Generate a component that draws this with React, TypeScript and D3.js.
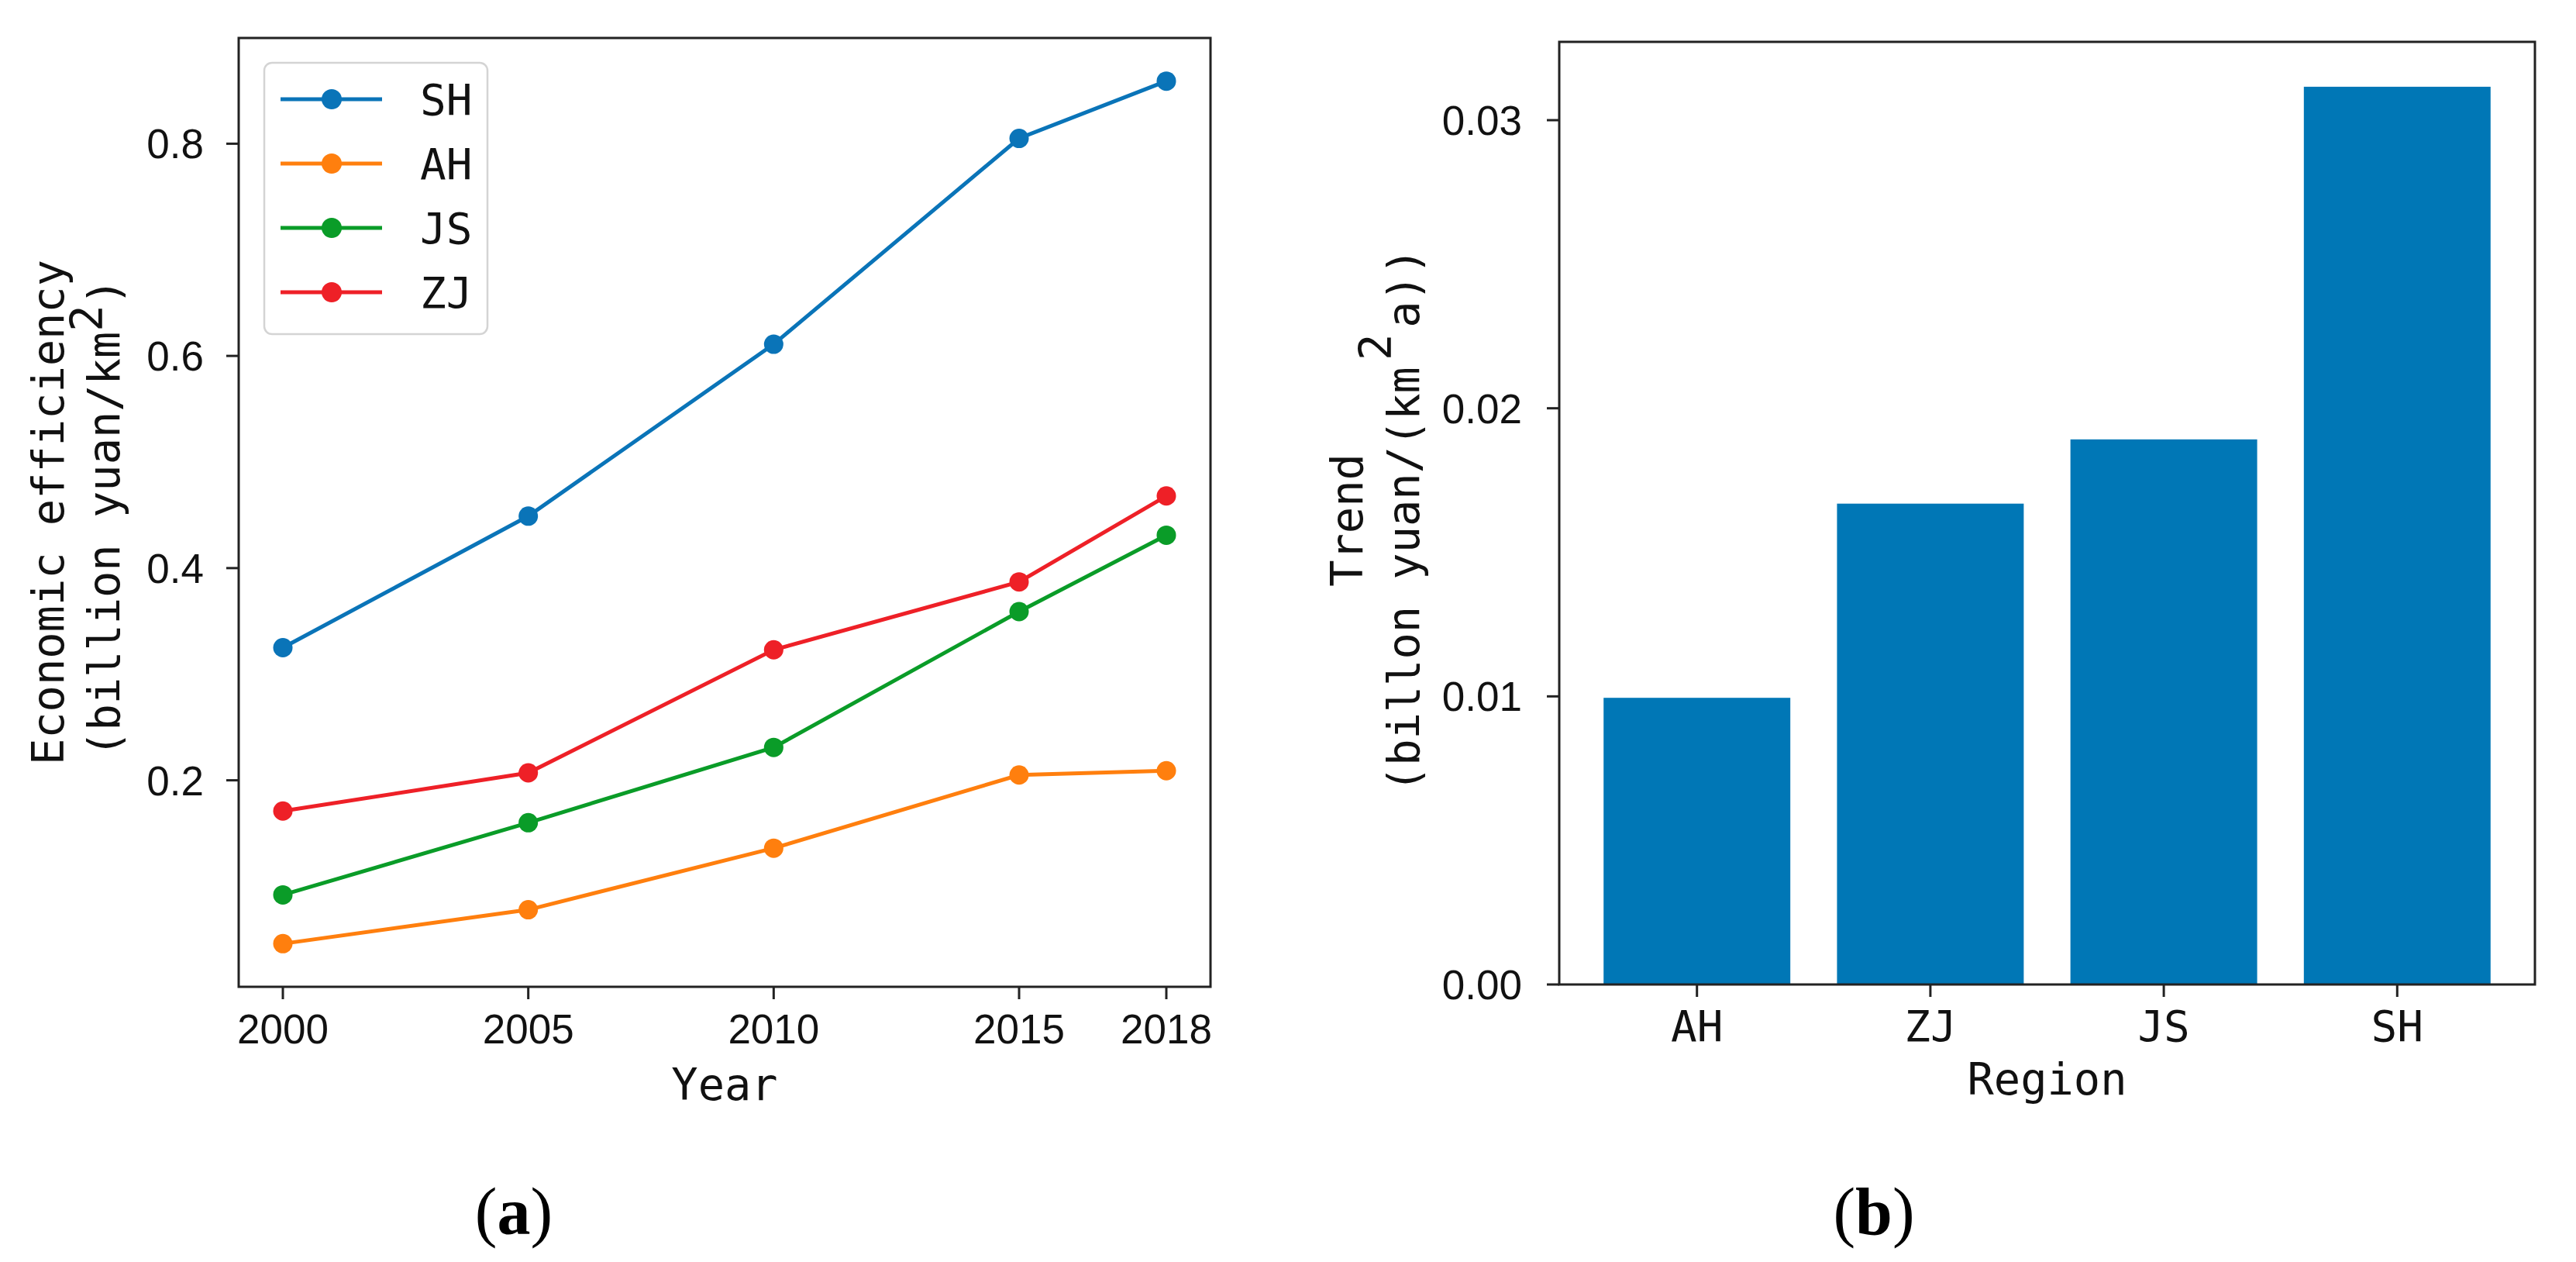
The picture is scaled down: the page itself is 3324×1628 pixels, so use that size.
import React from "react";
import * as d3 from "d3";

const years = [2000, 2005, 2010, 2015, 2018];
const seriesNames = ["SH", "AH", "JS", "ZJ"];
const shValues = [0.325, 0.449, 0.611, 0.805, 0.859];
const ahValues = [0.046, 0.078, 0.136, 0.205, 0.209];
const jsValues = [0.092, 0.160, 0.231, 0.359, 0.431];
const zjValues = [0.171, 0.207, 0.323, 0.387, 0.468];
const seriesColors = ["#0a74b8", "#ff7f0e", "#0a9c28", "#ee2027"];

const yTicksA = [0.2, 0.4, 0.6, 0.8];

const regions = ["AH", "ZJ", "JS", "SH"];
const trendValues = [0.00995, 0.01669, 0.01892, 0.03116];
const yTicksB = [0.0, 0.01, 0.02, 0.03];
const barColor = "#0077b6";

const MONO = "'DejaVu Sans Mono', 'Liberation Mono', monospace";
const SANS = "'Liberation Sans', Arial, sans-serif";
const SERIF = "'Liberation Serif', 'Times New Roman', serif";

export default function App() {
  const W = 3324, H = 1628;
  // panel a
  const aL = 308, aR = 1562, aT = 49, aB = 1273;
  const allSeries = [shValues, ahValues, jsValues, zjValues];
  const allVals = allSeries.flat();
  const vmin = d3.min(allVals)!, vmax = d3.max(allVals)!;
  const pad = (vmax - vmin) * 0.05;
  const xA = d3.scaleLinear().domain([2000 - 0.9, 2018 + 0.9]).range([aL, aR]);
  const yA = d3.scaleLinear().domain([vmin - pad, vmax + pad]).range([aB, aT]);
  const line = d3.line<number>().x((_, i) => xA(years[i])).y((v) => yA(v));

  // panel b
  const bL = 2012, bR = 3271, bT = 54, bB = 1270;
  const xB = d3.scaleLinear().domain([-0.59, 3.59]).range([bL, bR]);
  const yB = d3.scaleLinear().domain([0, d3.max(trendValues)! * 1.05]).range([bB, bT]);

  const legendRowY = [128, 211, 294, 377];

  return (
    <svg width={W} height={H} style={{ position: "absolute", left: 0, top: 0, background: "#fff" }}>
      <rect x={0} y={0} width={W} height={H} fill="#fff" />
      {/* ---------- Panel a ---------- */}
      <g>
        {allSeries.map((s, si) => (
          <g key={si}>
            <path d={line(s)!} fill="none" stroke={seriesColors[si]} strokeWidth={5} />
            {s.map((v, i) => (
              <circle key={i} cx={xA(years[i])} cy={yA(v)} r={12.5} fill={seriesColors[si]} />
            ))}
          </g>
        ))}
        <rect x={aL} y={aT} width={aR - aL} height={aB - aT} fill="none" stroke="#222" strokeWidth={3} />
        {yTicksA.map((t) => (
          <g key={t}>
            <line x1={aL - 16} x2={aL} y1={yA(t)} y2={yA(t)} stroke="#222" strokeWidth={3} />
            <text x={aL - 45} y={yA(t)} dy="0.36em" textAnchor="end" fontFamily={SANS} fontSize={53} fill="#111">
              {t.toFixed(1)}
            </text>
          </g>
        ))}
        {years.map((yr) => (
          <g key={yr}>
            <line x1={xA(yr)} x2={xA(yr)} y1={aB} y2={aB + 16} stroke="#222" strokeWidth={3} />
            <text x={xA(yr)} y={1346} textAnchor="middle" fontFamily={SANS} fontSize={53} fill="#111">
              {yr}
            </text>
          </g>
        ))}
        <text x={(aL + aR) / 2} y={1419} textAnchor="middle" fontFamily={MONO} fontSize={57} fill="#111">
          Year
        </text>
        <text transform="translate(82,661) rotate(-90)" textAnchor="middle" fontFamily={MONO} fontSize={57} fill="#111">
          Economic efficiency
        </text>
        <text transform="translate(154,668) rotate(-90)" textAnchor="middle" fontFamily={MONO} fontSize={57} fill="#111">
          (billion yuan/km<tspan dy={-22}>2</tspan><tspan dy={22}>)</tspan>
        </text>
        {/* legend */}
        <rect x={341} y={81} width={288} height={350} rx={10} fill="#fff" fillOpacity={0.8} stroke="#d4d4d4" strokeWidth={2.5} />
        {seriesNames.map((n, i) => (
          <g key={n}>
            <line x1={362} x2={493} y1={legendRowY[i]} y2={legendRowY[i]} stroke={seriesColors[i]} strokeWidth={5} />
            <circle cx={428} cy={legendRowY[i]} r={13} fill={seriesColors[i]} />
            <text x={542} y={legendRowY[i]} dy="0.36em" fontFamily={MONO} fontSize={56} fill="#111">
              {n}
            </text>
          </g>
        ))}
        <text x={663} y={1592} textAnchor="middle" fontFamily={SERIF} fontSize={86} fill="#000">
          (<tspan fontWeight="bold">a</tspan>)
        </text>
      </g>

      {/* ---------- Panel b ---------- */}
      <g>
        {trendValues.map((v, i) => (
          <rect key={regions[i]} x={xB(i - 0.4)} y={yB(v)} width={xB(i + 0.4) - xB(i - 0.4)} height={yB(0) - yB(v)} fill={barColor} />
        ))}
        <rect x={bL} y={bT} width={bR - bL} height={bB - bT} fill="none" stroke="#222" strokeWidth={3} />
        {yTicksB.map((t) => (
          <g key={t}>
            <line x1={bL - 16} x2={bL} y1={yB(t)} y2={yB(t)} stroke="#222" strokeWidth={3} />
            <text x={bL - 48} y={yB(t)} dy="0.36em" textAnchor="end" fontFamily={SANS} fontSize={53} fill="#111">
              {t.toFixed(2)}
            </text>
          </g>
        ))}
        {regions.map((r, i) => (
          <g key={r}>
            <line x1={xB(i)} x2={xB(i)} y1={bB} y2={bB + 16} stroke="#222" strokeWidth={3} />
            <text x={xB(i)} y={1343} textAnchor="middle" fontFamily={MONO} fontSize={56} fill="#111">
              {r}
            </text>
          </g>
        ))}
        <text x={(bL + bR) / 2} y={1412} textAnchor="middle" fontFamily={MONO} fontSize={57} fill="#111">
          Region
        </text>
        <text transform="translate(1758,671) rotate(-90)" textAnchor="middle" fontFamily={MONO} fontSize={57} fill="#111">
          Trend
        </text>
        <text transform="translate(1831,671) rotate(-90)" textAnchor="middle" fontFamily={MONO} fontSize={57} fill="#111">
          (billon yuan/(km<tspan dx={8} dy={-36}>2</tspan><tspan dx={8} dy={36}>a))</tspan>
        </text>
        <text x={2418} y={1592} textAnchor="middle" fontFamily={SERIF} fontSize={86} fill="#000">
          (<tspan fontWeight="bold">b</tspan>)
        </text>
      </g>
    </svg>
  );
}
